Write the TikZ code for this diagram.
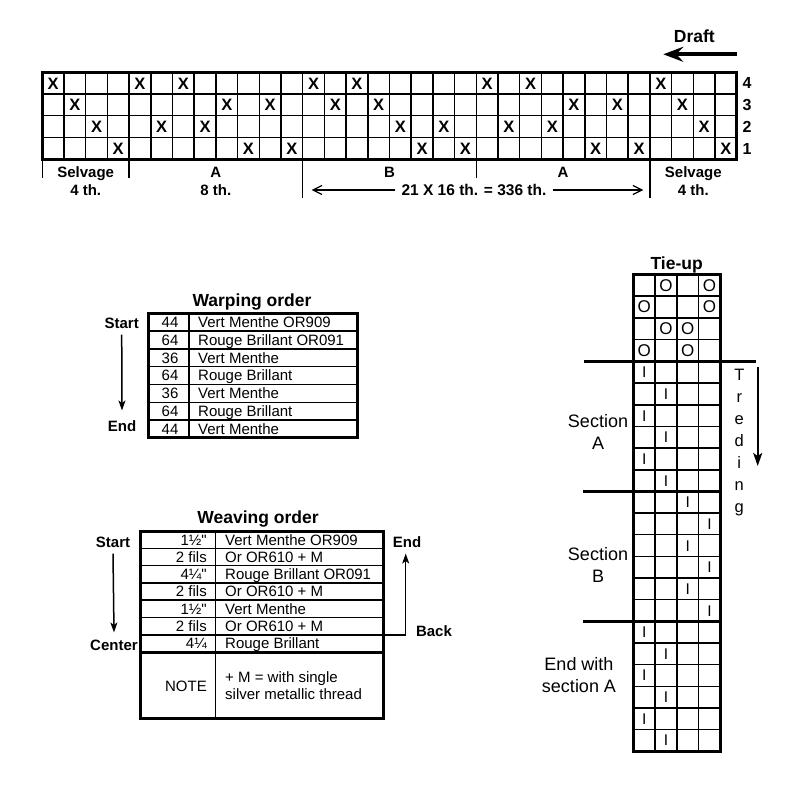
\documentclass[tikz,border=0pt]{standalone}
\usepackage{fontspec}
\setmainfont{Liberation Sans}
\newfontfamily\lsans{Liberation Sans}
\usetikzlibrary{arrows.meta}
\begin{document}
\begin{tikzpicture}[x=1pt,y=-1pt,
  gridline/.style={line width=1.5pt},
  frame/.style={line width=3pt},
  sepline/.style={line width=3pt},
  txt/.style={font=\lsans\fontsize{15}{18}\selectfont, inner sep=0pt, text height=10.7pt, text depth=0pt},
  lbl/.style={font=\fontsize{15}{18}\selectfont\bfseries, inner sep=0pt, text height=10.7pt, text depth=0pt},
  rowlbl/.style={font=\fontsize{16}{19}\selectfont\bfseries, inner sep=0pt, text height=11.5pt, text depth=0pt},
  ttl/.style={font=\fontsize{17.5}{21}\selectfont\bfseries, inner sep=0pt, text height=12.5pt, text depth=0pt},
  sect/.style={font=\fontsize{18}{21.7}\selectfont, inner sep=0pt, text height=12.9pt, text depth=0pt},
  trd/.style={font=\fontsize{16.5}{19}\selectfont, inner sep=0pt, anchor=base},
  xmark/.style={font=\fontsize{16.5}{19}\selectfont\bfseries, inner sep=0pt, text height=11.8pt, text depth=0pt},
  omark/.style={font=\fontsize{17}{19}\selectfont, inner sep=0pt, text height=12.2pt, text depth=0pt},
  imark/.style={font=\fontsize{15.5}{18}\selectfont, inner sep=0pt, text height=11.1pt, text depth=0pt},
  arr/.style={line width=1.5pt, -{Stealth[length=10pt,width=7pt,inset=2.5pt]}},
  barb/.style={line width=1.2pt, -{Straight Barb[length=9pt,width=9pt]}}
]
\useasboundingbox[fill=white] (0,0) rectangle (800,793);

% ---------------- Draft ----------------
\def\gdx{42.3}\def\gdy{72.3}\def\gdc{21.7}
\foreach \i in {1,...,31} \draw[gridline] ({\gdx+\i*\gdc},\gdy) -- ({\gdx+\i*\gdc},{\gdy+4*\gdc});
\foreach \j in {1,2,3} \draw[gridline] (\gdx,{\gdy+\j*\gdc}) -- ({\gdx+32*\gdc},{\gdy+\j*\gdc});
\draw[frame] (\gdx,\gdy) rectangle ({\gdx+32*\gdc},{\gdy+4*\gdc});
\foreach \c/\s in {1/4,2/3,3/2,4/1,5/4,6/2,7/4,8/2,9/3,10/1,11/3,12/1,
                   13/4,14/3,15/4,16/3,17/2,18/1,19/2,20/1,
                   21/4,22/2,23/4,24/2,25/3,26/1,27/3,28/1,
                   29/4,30/3,31/2,32/1}
  \node[xmark] (x\c) at ({\gdx+(\c-0.5)*\gdc},{\gdy+(4-\s+0.5)*\gdc}) {X};
\foreach \s/\r in {4/0,3/1,2/2,1/3}
  \node[rowlbl] (shaft\s) at (747,{\gdy+(\r+0.5)*\gdc}) {\s};
\foreach \c/\e in {0/178,4/178,12/198,20/178,28/198}
  \draw[gridline] ({\gdx+\c*\gdc},{\gdy+4*\gdc}) -- ({\gdx+\c*\gdc},\e);

\node[lbl] (selL) at (85.7,172) {Selvage};
\node[lbl] (selLn) at (85.7,190) {4 th.};
\node[lbl] (aL) at (215.9,172) {A};
\node[lbl] (aLn) at (215.9,190) {8 th.};
\node[lbl] (bM) at (389.5,172) {B};
\node[lbl] (aR) at (563.1,172) {A};
\node[lbl] (selR) at (693.3,172) {Selvage};
\node[lbl] (selRn) at (693.3,190) {4 th.};
\node[lbl,font=\fontsize{15.5}{18}\selectfont\bfseries] (nB) at (474,190) {21 X 16 th. = 336 th.};
\coordinate (arrLtip) at (311.7,190);
\coordinate (arrRtip) at (643.3,190);
\draw[barb] ([xshift=-6pt]nB.west) -- (arrLtip);
\draw[barb] ([xshift=6pt]nB.east) -- (arrRtip);

\node[ttl] (draft) at (694.3,36) {Draft};
\coordinate (dS) at (736.7,54.3);
\coordinate (dE) at (663.3,54.3);
\draw[line width=4pt, -{Stealth[length=20pt,width=15pt,inset=7pt]}] (dS) -- (dE);

% ---------------- Warping order ----------------
\def\wpl{148.3}\def\wpr{357.7}\def\wpd{189}\def\wpt{313.3}\def\wph{17.8}
\node[ttl] (warpT) at (252,300.5) {Warping order};
\foreach \i in {1,...,6} \draw[gridline] (\wpl,{\wpt+\i*\wph}) -- (\wpr,{\wpt+\i*\wph});
\draw[gridline] (\wpd,\wpt) -- (\wpd,{\wpt+7*\wph});
\draw[frame] (\wpl,\wpt) rectangle (\wpr,{\wpt+7*\wph});
\foreach \i/\n/\t in {0/44/Vert Menthe OR909,1/64/Rouge Brillant OR091,2/36/Vert Menthe,
                      3/64/Rouge Brillant,4/36/Vert Menthe,5/64/Rouge Brillant,6/44/Vert Menthe}{
  \node[txt] (wn\i) at (170,{\wpt+(\i+0.5)*\wph}) {\n};
  \node[txt,anchor=west] (wt\i) at (198,{\wpt+(\i+0.5)*\wph}) {\t};
}
\node[lbl] (wStart) at (121.7,323) {Start};
\node[lbl] (wEnd) at (122,426) {End};
\draw[arr] ([yshift=-6pt]wStart.south) -- ([yshift=10pt]wEnd.north);

% ---------------- Weaving order ----------------
\def\wvl{140.7}\def\wvr{383.3}\def\wvd{215.7}\def\wvt{531}\def\wvh{17.3}
\node[ttl] (weaveT) at (258,517) {Weaving order};
\foreach \i in {1,...,6} \draw[gridline] (\wvl,{\wvt+\i*\wvh}) -- (\wvr,{\wvt+\i*\wvh});
\draw[frame] (\wvl,{\wvt+7*\wvh}) -- (\wvr,{\wvt+7*\wvh});
\draw[gridline] (\wvd,\wvt) -- (\wvd,718.3);
\draw[frame] (\wvl,\wvt) rectangle (\wvr,718.3);
\foreach \i/\n/\t in {0/1½"/Vert Menthe OR909,1/2 fils/Or OR610 + M,2/4¼"/Rouge Brillant OR091,
                      3/2 fils/Or OR610 + M,4/1½"/Vert Menthe,5/2 fils/Or OR610 + M,6/4¼/Rouge Brillant}{
  \node[txt,anchor=east] (vn\i) at (207,{\wvt+(\i+0.5)*\wvh}) {\n};
  \node[txt,anchor=west] (vt\i) at (225,{\wvt+(\i+0.5)*\wvh}) {\t};
}
\node[txt,anchor=east] (note) at (207,685.7) {NOTE};
\node[txt,anchor=west] (note1) at (225,676.7) {+ M = with single};
\node[txt,anchor=west] (note2) at (225,694.3) {silver metallic thread};
\node[lbl] (vStart) at (113,542) {Start};
\node[lbl] (vCenter) at (114,645) {Center};
\draw[arr] ([yshift=-6pt]vStart.south) -- ([yshift=7pt]vCenter.north);
\node[lbl] (vEnd) at (407,542) {End};
\node[lbl] (vBack) at (434,631) {Back};
\coordinate (bkA) at (\wvr,{\wvt+6*\wvh});
\coordinate (bkB) at (405.7,{\wvt+6*\wvh});
\draw[arr] (bkA) -- (bkB) -- ([yshift=-6pt]vEnd.south -| bkB);

% ---------------- Tie-up and treadling ----------------
\def\tul{633.3}\def\tuc{21.8}\def\tut{274}\def\tuh{21.875}\def\tum{361.5}\def\tur{21.65}
\node[ttl] (tieT) at (676.7,263.3) {Tie-up};
\foreach \i in {1,2,3} \draw[gridline] ({\tul+\i*\tuc},\tut) -- ({\tul+\i*\tuc},{\tum+18*\tur});
\foreach \j in {1,2,3} \draw[gridline] (\tul,{\tut+\j*\tuh}) -- ({\tul+4*\tuc},{\tut+\j*\tuh});
\foreach \j in {1,...,17} \draw[gridline] (\tul,{\tum+\j*\tur}) -- ({\tul+4*\tuc},{\tum+\j*\tur});
\draw[sepline] (584.3,\tum) -- (756,\tum);
\draw[sepline] (582.7,{\tum+6*\tur}) -- ({\tul+4*\tuc},{\tum+6*\tur});
\draw[sepline] (582.7,{\tum+12*\tur}) -- ({\tul+4*\tuc},{\tum+12*\tur});
\draw[frame] (\tul,\tut) rectangle ({\tul+4*\tuc},{\tum+18*\tur});
\foreach \r/\c in {1/2,1/4,2/1,2/4,3/2,3/3,4/1,4/3}
  \node[omark] (o\r\c) at ({\tul+(\c-0.5)*\tuc},{\tut+(\r-0.5)*\tuh}) {O};
\foreach \r/\c in {1/1,2/2,3/1,4/2,5/1,6/2,7/3,8/4,9/3,10/4,11/3,12/4,13/1,14/2,15/1,16/2,17/1,18/2}
  \node[imark] (t\r) at ({\tul+(\c-0.5)*\tuc},{\tum+(\r-0.5)*\tur}) {I};

\node[sect] (secA1) at (598,420.7) {Section};
\node[sect] (secA2) at (598,442.7) {A};
\node[sect] (secB1) at (598,554) {Section};
\node[sect] (secB2) at (598,576) {B};
\node[sect] (endA1) at (579,664) {End with};
\node[sect] (endA2) at (579,685.7) {section A};

\foreach \k/\l in {0/T,1/r,2/e,3/d,4/i,5/n,6/g}
  \node[trd] (trd\k) at (739.3,{380+22*\k}) {\l};
\coordinate (trS) at (757.7,366.7);
\coordinate (trE) at (757.7,466);
\draw[line width=2pt, -{Stealth[length=13pt,width=9pt,inset=3pt]}] (trS) -- (trE);
\end{tikzpicture}
\end{document}
